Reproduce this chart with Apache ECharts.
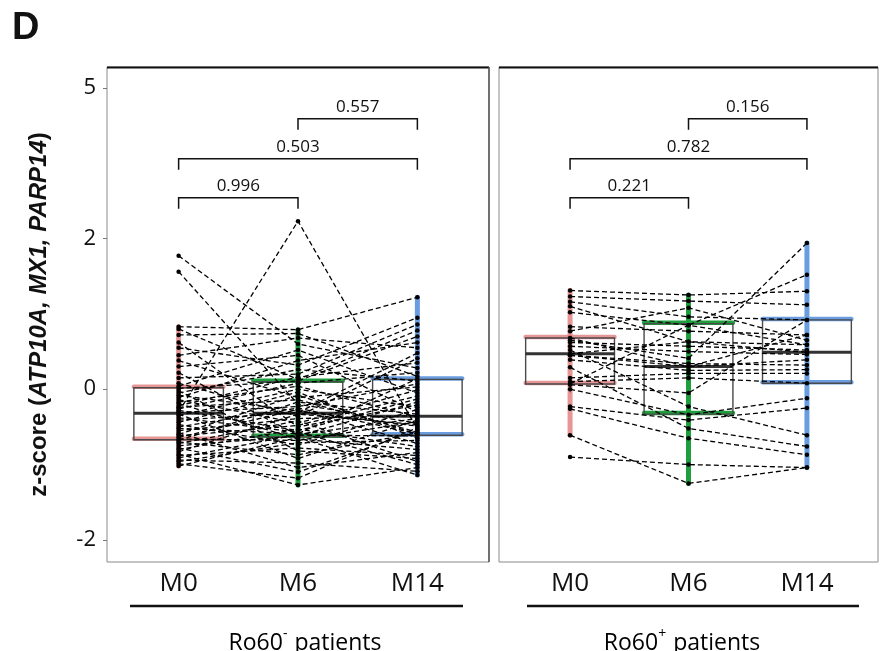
<!DOCTYPE html>
<html>
<head>
<meta charset="utf-8">
<script src="https://cdn.jsdelivr.net/npm/echarts@6.0.0/dist/echarts.min.js"></script>
<style>
html,body{margin:0;padding:0;background:#fff;}
#chart{width:884px;height:651px;}
</style>
</head>
<body>
<div id="chart"></div>
<script>
// ---------------- data ----------------
const categories = ['M0', 'M6', 'M14'];
const yTickValues = [-2, 0, 2, 4];
const yTickLabels = ['-2', '0', '2', '5'];
const groupNames = ['Ro60', 'Ro60'];
const groupSigns = ['-', '+'];
const groupSuffix = ' patients';

// Ro60- patients (paired values per patient)
const negM0 = [1.77, 1.56, 0.83, 0.80, 0.72, 0.62, 0.55, 0.45, 0.38, 0.30, 0.22, 0.15, 0.08, 0.04,
  0.01, -0.02, -0.05, -0.08, -0.11, -0.14, -0.17, -0.19, -0.22, -0.24, -0.26, -0.28, -0.30, -0.31,
  -0.33, -0.35, -0.38, -0.41, -0.44, -0.47, -0.50, -0.52, -0.55, -0.58, -0.60, -0.62, -0.64, -0.66,
  -0.68, -0.70, -0.72, -0.75, -0.78, -0.80, -0.83, -0.86, -0.88, -0.91, -0.94, -0.96, -0.99, -1.02];
const negM6 = [0.60, -0.20, 0.79, 0.13, 0.74, -0.50, 0.32, 0.68, -0.11, 0.45, -0.61, 0.20, -0.36, 0.52,
  0.11, -0.82, 0.26, -0.29, 0.38, -0.45, 0.04, -0.66, 0.16, -0.14, 0.08, -0.55, 2.23, -0.23,
  -0.92, 0.00, -0.57, -0.31, -0.04, -0.74, -0.25, -0.59, -0.39, -1.04, -0.08, -0.48, -0.27, -0.68,
  -0.17, -0.87, -0.42, -0.62, -1.10, -0.53, -0.33, -1.27, -0.78, -0.60, -0.98, -0.71, -1.18, -0.64];
const negM14 = [0.28, -0.45, 1.22, 0.78, 0.17, -0.21, 0.95, 0.55, 0.03, -0.30, -0.62, 0.86, 0.41, -0.05,
  0.70, -0.92, 0.11, -0.49, 0.62, -0.01, -0.37, -0.80, 0.35, -0.57, 0.22, -0.13, -0.53, 0.07,
  -0.41, -0.24, -1.00, 0.48, -0.65, -0.27, -0.59, 0.14, -0.35, -0.84, -0.60, -0.09, -0.72, -0.43,
  -0.33, -0.58, -0.96, -0.17, -0.55, -0.76, -0.47, -1.04, -0.88, -0.39, -1.09, -0.68, -0.51, -1.14];

// Ro60+ patients
const posM0 = [1.31, 1.23, 1.16, 1.10, 1.02, 0.83, 0.77, 0.65, 0.62, 0.57, 0.52, 0.45, 0.45, 0.39,
  0.29, 0.15, 0.10, 0.06, 0.07, 0.00, -0.23, -0.26, -0.61, -0.90, 0.47, 0.68];
const posM6 = [1.25, 1.17, 0.96, 0.63, 0.85, 0.77, 1.08, 0.41, 0.57, 0.50, -0.23, 0.30, 0.34, 0.25,
  -0.52, 0.21, 0.15, -0.05, 0.85, -0.34, -0.41, -0.65, -1.25, -1.00, 0.63, 0.30];
const posM14 = [1.30, 1.12, 0.92, 0.59, 1.52, 0.72, 0.65, 1.94, 0.52, 0.46, -0.61, 0.39, 0.32, 0.26,
  -0.76, 0.21, 0.08, 0.92, 0.59, -0.12, -0.25, -0.87, -1.04, -1.04, 0.49, 0.72];

// box statistics (per time point)
const negMin = [-1.02, -1.27, -1.14];
const negQ1  = [-0.67, -0.63, -0.61];
const negMed = [-0.32, -0.32, -0.36];
const negQ3  = [0.02, 0.10, 0.13];
const negMax = [0.83, 0.79, 1.22];
const posMin = [-0.61, -1.25, -1.04];
const posQ1  = [0.07, -0.33, 0.08];
const posMed = [0.47, 0.30, 0.49];
const posQ3  = [0.68, 0.87, 0.92];
const posMax = [1.31, 1.25, 1.94];

// comparison brackets
const bracketFrom = [1, 1, 2];
const bracketTo = [2, 3, 3];
const bracketY = [2.54, 3.06, 3.59];
const negPvals = ['0.996', '0.503', '0.557'];
const posPvals = ['0.221', '0.782', '0.156'];

// ---------------- styling ----------------
const timeColors = ['rgba(222,110,110,0.72)', '#1f9e3e', '#6a9de0'];
const FONT = '"Open Sans", "DejaVu Sans", sans-serif';

const chart = echarts.init(document.getElementById('chart'), null, {renderer: 'canvas'});

const grids = [
  {left: 107, top: 67, width: 382, height: 495},
  {left: 499, top: 67, width: 379, height: 495}
];

function makeXAxis(g) {
  return {
    type: 'value', gridIndex: g, min: 0.4, max: 3.6,
    axisLine: {show: false},
    splitLine: {show: false},
    axisTick: {show: true, customValues: [1, 2, 3], length: 4, lineStyle: {color: '#777'}},
    axisLabel: {
      show: true, customValues: [1, 2, 3], margin: 9,
      formatter: v => categories[Math.round(v) - 1],
      fontFamily: FONT, fontSize: 26, color: '#111'
    }
  };
}
function makeYAxis(g) {
  const ax = {
    type: 'value', gridIndex: g, min: -2.293, max: 4.276,
    axisLine: {show: false},
    splitLine: {show: false},
    axisTick: {show: g === 0, customValues: yTickValues, length: 4, lineStyle: {color: '#777'}},
    axisLabel: {
      show: g === 0, customValues: yTickValues, margin: 11,
      formatter: v => yTickLabels[yTickValues.indexOf(Math.round(v))],
      fontFamily: FONT, fontSize: 22, color: '#111'
    }
  };
  if (g === 0) {
    ax.name = '{b|z-score (}{i|ATP10A, MX1, PARP14}{b|)}';
    ax.nameLocation = 'middle';
    ax.nameGap = 56;
    ax.nameRotate = 90;
    ax.nameTextStyle = {
      rich: {
        b: {fontFamily: '"Liberation Sans", Arial, sans-serif', fontWeight: 'bold', fontSize: 24, color: '#111'},
        i: {fontFamily: '"Liberation Sans", Arial, sans-serif', fontWeight: 'bold', fontStyle: 'italic', fontSize: 24, color: '#111'}
      }
    };
  }
  return ax;
}

function boxData(mn, q1, md, q3, mx) {
  return categories.map((c, i) => [i + 1, mn[i], q1[i], md[i], q3[i], mx[i], i]);
}

function colouredRender(params, api) {
  const x = api.value(0);
  const col = timeColors[api.value(6)];
  const top = api.coord([x, api.value(5)]);
  const bot = api.coord([x, api.value(1)]);
  const q1l = api.coord([x - 0.375, api.value(2)]);
  const q1r = api.coord([x + 0.375, api.value(2)]);
  const q3l = api.coord([x - 0.375, api.value(4)]);
  const q3r = api.coord([x + 0.375, api.value(4)]);
  const st = {stroke: col, lineWidth: 5, lineCap: 'round', fill: null};
  return {
    type: 'group',
    children: [
      {type: 'line', shape: {x1: top[0], y1: top[1], x2: bot[0], y2: bot[1]}, style: st},
      {type: 'line', shape: {x1: q1l[0], y1: q1l[1] - 1, x2: q1r[0], y2: q1r[1] - 1}, style: Object.assign({}, st, {lineWidth: 4.5})},
      {type: 'line', shape: {x1: q3l[0], y1: q3l[1] - 1, x2: q3r[0], y2: q3r[1] - 1}, style: Object.assign({}, st, {lineWidth: 4.5})}
    ]
  };
}
function blackRender(params, api) {
  const x = api.value(0);
  const a = api.coord([x - 0.375, api.value(4)]);
  const b = api.coord([x + 0.375, api.value(2)]);
  const ml = api.coord([x - 0.375, api.value(3)]);
  const mr = api.coord([x + 0.375, api.value(3)]);
  return {
    type: 'group',
    children: [
      {type: 'rect', shape: {x: a[0], y: a[1], width: b[0] - a[0], height: b[1] - a[1]},
        style: {stroke: '#4a4a4a', lineWidth: 1.4, fill: null}},
      {type: 'line', shape: {x1: ml[0], y1: ml[1], x2: mr[0], y2: mr[1]},
        style: {stroke: '#333', lineWidth: 3}}
    ]
  };
}
function bracketRenderFactory(labels) {
  return function (params, api) {
    const p1 = api.coord([api.value(0), api.value(2)]);
    const p2 = api.coord([api.value(1), api.value(2)]);
    return {
      type: 'group',
      children: [
        {type: 'polyline', shape: {points: [[p1[0], p1[1] + 11], [p1[0], p1[1]], [p2[0], p2[1]], [p2[0], p2[1] + 11]]},
          style: {stroke: '#111', lineWidth: 1.5, fill: null}},
        {type: 'text', x: (p1[0] + p2[0]) / 2, y: p1[1] - 3,
          style: {text: labels[params.dataIndex], font: '17px ' + FONT, fill: '#111', align: 'center', verticalAlign: 'bottom'}}
      ]
    };
  };
}

const series = [];
const panels = [
  {m0: negM0, m6: negM6, m14: negM14, stats: [negMin, negQ1, negMed, negQ3, negMax], p: negPvals},
  {m0: posM0, m6: posM6, m14: posM14, stats: [posMin, posQ1, posMed, posQ3, posMax], p: posPvals}
];
panels.forEach((pn, g) => {
  const bd = boxData(...pn.stats);
  series.push({type: 'custom', xAxisIndex: g, yAxisIndex: g, renderItem: colouredRender, data: bd, z: 1, silent: true});
  series.push({type: 'custom', xAxisIndex: g, yAxisIndex: g, renderItem: blackRender, data: bd, z: 2, silent: true});
  pn.m0.forEach((v, i) => {
    series.push({
      type: 'line', xAxisIndex: g, yAxisIndex: g, z: 3, silent: true,
      data: [[1, v], [2, pn.m6[i]], [3, pn.m14[i]]],
      symbol: 'circle', symbolSize: 4.5,
      itemStyle: {color: '#000'},
      lineStyle: {color: '#000', width: 1.3, type: [5, 3]}
    });
  });
  series.push({
    type: 'custom', xAxisIndex: g, yAxisIndex: g, z: 4, silent: true,
    renderItem: bracketRenderFactory(pn.p),
    data: bracketFrom.map((f, i) => [f, bracketTo[i], bracketY[i]])
  });
});

function groupLabel(i, x) {
  return {
    type: 'text', x: x, y: 641,
    style: {
      text: '{a|' + groupNames[i] + '}{s|' + groupSigns[i] + '}{a|' + groupSuffix + '}',
      align: 'center', verticalAlign: 'middle',
      rich: {
        a: {fontFamily: FONT, fontSize: 23, color: '#111', lineHeight: 28, verticalAlign: 'bottom'},
        s: {fontFamily: FONT, fontSize: 14, color: '#111', lineHeight: 28, verticalAlign: 'top', padding: [0, 1, 0, 0]}
      }
    }
  };
}

const option = {
  animation: false,
  backgroundColor: '#fff',
  grid: grids.map(gd => Object.assign({show: true, borderColor: '#8a8a8a', borderWidth: 1, containLabel: false}, gd)),
  xAxis: [makeXAxis(0), makeXAxis(1)],
  yAxis: [makeYAxis(0), makeYAxis(1)],
  series: series,
  graphic: [
    {type: 'text', left: 12, top: 10, style: {text: 'D', font: 'bold 38px "Liberation Sans", Arial, sans-serif', fill: '#111'}},
    {type: 'line', shape: {x1: 107, y1: 67.5, x2: 489, y2: 67.5}, style: {stroke: '#111', lineWidth: 2}},
    {type: 'line', shape: {x1: 499, y1: 67.5, x2: 878, y2: 67.5}, style: {stroke: '#111', lineWidth: 2}},
    {type: 'line', shape: {x1: 489, y1: 67, x2: 489, y2: 562}, style: {stroke: '#555', lineWidth: 1.5}},
    {type: 'line', shape: {x1: 130, y1: 606, x2: 463, y2: 606}, style: {stroke: '#111', lineWidth: 2.6}},
    {type: 'line', shape: {x1: 527, y1: 606, x2: 859, y2: 606}, style: {stroke: '#111', lineWidth: 2.6}},
    groupLabel(0, 305),
    groupLabel(1, 682)
  ]
};
chart.setOption(option);
</script>
</body>
</html>
